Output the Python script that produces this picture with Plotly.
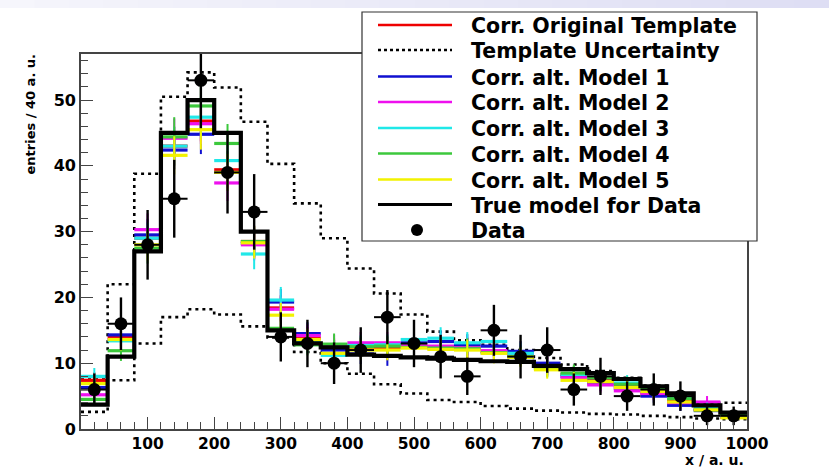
import numpy as np
import plotly.graph_objects as go

# ---------------- data ----------------
bin_edges = list(range(0, 1001, 40))
bin_centers = [e + 20 for e in bin_edges[:-1]]

true_model = [3.7, 11.0, 27.0, 45.0, 50.0, 45.0, 30.0, 15.0, 13.0, 12.4, 11.3, 11.1, 10.9,
              10.7, 10.5, 10.3, 10.2, 9.6, 9.1, 8.5, 7.6, 6.5, 5.4, 3.6, 2.5]
unc_upper = [7.5, 22.0, 38.8, 50.5, 54.2, 51.9, 46.7, 40.3, 34.3, 29.0, 24.4, 20.6, 17.4,
             14.8, 13.5, 12.8, 12.0, 10.8, 9.8, 8.8, 7.8, 6.6, 5.3, 4.0, 4.0]
unc_lower = [2.6, 7.4, 13.0, 17.0, 18.2, 17.4, 15.6, 13.9, 11.7, 10.0, 8.4, 6.8, 5.4,
             4.4, 4.1, 3.5, 3.1, 2.8, 2.5, 2.3, 2.2, 2.0, 1.8, 1.6, 1.5]

orig_template = [7.4, 13.9, 29.0, 43.0, 46.8, 39.4, 28.5, 18.4, 13.8, 12.2, 12.3, 12.4, 12.6,
                 12.5, 12.3, 11.8, 11.2, 9.6, 8.3, 7.4, 6.6, 5.5, 4.3, 3.0, 1.8]
alt_model_1 = [6.3, 14.3, 29.5, 42.4, 44.8, 39.0, 28.2, 19.3, 14.5, 12.0, 11.4, 11.1, 13.1,
               13.3, 12.8, 12.6, 11.8, 10.0, 8.0, 7.0, 6.2, 5.0, 3.6, 2.8, 1.9]
alt_model_2 = [5.2, 13.6, 30.3, 44.2, 46.4, 37.4, 28.0, 18.2, 14.2, 12.7, 13.1, 13.1, 12.6,
               12.6, 12.3, 11.9, 11.3, 9.4, 7.8, 6.7, 5.8, 5.4, 4.0, 4.1, 1.9]
alt_model_3 = [8.0, 13.4, 29.0, 43.0, 47.4, 40.8, 26.6, 19.6, 13.2, 11.2, 12.7, 12.8, 13.6,
               13.8, 13.1, 13.3, 11.5, 9.2, 8.3, 7.8, 7.0, 6.0, 4.8, 3.2, 2.0]
alt_model_4 = [4.5, 11.9, 27.5, 44.4, 49.1, 43.4, 28.5, 15.3, 12.8, 12.9, 12.5, 12.6, 12.4,
               12.3, 12.2, 11.6, 11.0, 9.3, 8.5, 7.8, 6.8, 6.1, 4.6, 2.9, 2.1]
alt_model_5 = [6.9, 13.6, 28.0, 41.6, 45.5, 39.0, 28.3, 17.3, 13.6, 11.5, 12.0, 12.0, 12.3,
               12.1, 12.0, 11.5, 10.9, 9.0, 7.4, 7.2, 6.3, 5.7, 4.1, 2.9, 1.7]

data_counts = [6, 16, 28, 35, 53, 39, 33, 14, 13, 10, 12, 17, 13, 11, 8, 15, 11, 12, 6, 8,
               5, 6, 5, 2, 2]

x_tick_vals = [100, 200, 300, 400, 500, 600, 700, 800, 900, 1000]
y_tick_vals = [0, 10, 20, 30, 40, 50]

legend_labels = ["Corr. Original Template", "Template Uncertainty", "Corr. alt. Model 1",
                 "Corr. alt. Model 2", "Corr. alt. Model 3", "Corr. alt. Model 4",
                 "Corr. alt. Model 5", "True model for Data", "Data"]

# ---------------- style ----------------
W, H = 829, 470
ML, MR, MT, MB = 81, 82, 54, 41
PW, PH = W - ML - MR, H - MT - MB

RED, BLUE, MAG, CYAN, GREEN, YEL = "#ee0000", "#1010d0", "#ee10ee", "#20e8e8", "#3cc83c", "#f2f200"
model_series = [(orig_template, RED), (alt_model_1, BLUE), (alt_model_2, MAG),
                (alt_model_3, CYAN), (alt_model_4, GREEN), (alt_model_5, YEL)]

def px_x(p):
    return (p - ML) / PW

def px_y(p):
    return (H - MB - p) / PH

def step(vals):
    return list(vals) + [vals[-1]]

fig = go.Figure()

# uncertainty band edges (dotted)
for band in (unc_upper, unc_lower):
    fig.add_trace(go.Scatter(x=bin_edges, y=step(band), mode="lines", line_shape="hv",
                             line=dict(color="black", width=2.6, dash="3px,4px"),
                             hoverinfo="skip", showlegend=False))

# corrected models (ROOT "E"-style crosses)
for vals, col in model_series:
    v = np.array(vals)
    fig.add_trace(go.Scatter(x=bin_centers, y=vals, mode="markers",
                             marker=dict(size=1, color=col),
                             error_x=dict(type="constant", value=20, width=0, thickness=3.2, color=col),
                             error_y=dict(type="data", array=0.45 * np.sqrt(v), width=0,
                                          thickness=2, color=col),
                             showlegend=False))

# true model
fig.add_trace(go.Scatter(x=bin_edges, y=step(true_model), mode="lines", line_shape="hv",
                         line=dict(color="black", width=4.2), showlegend=False))

# data
d = np.array(data_counts, dtype=float)
fig.add_trace(go.Scatter(x=bin_centers, y=data_counts, mode="markers",
                         marker=dict(size=13, color="black"),
                         error_x=dict(type="constant", value=20, width=0, thickness=2, color="black"),
                         error_y=dict(type="data", array=np.sqrt(d), width=0, thickness=2.4,
                                      color="black"),
                         showlegend=False))

shapes = []
annotations = []

# top gradient band (slide decoration)
n_seg = 24
for i in range(n_seg):
    t = i / (n_seg - 1)
    r = int(246 - 24 * t)
    g = int(246 - 24 * t)
    b = int(252 - 8 * t)
    shapes.append(dict(type="rect", xref="paper", yref="paper",
                       x0=px_x(i * W / n_seg), x1=px_x((i + 1) * W / n_seg + 1),
                       y0=px_y(8), y1=px_y(0), line=dict(width=0),
                       fillcolor=f"rgb({r},{g},{b})", layer="above"))

# legend box
LX0, LX1, LY0, LY1 = 362, 757, 12, 241
shapes.append(dict(type="rect", xref="paper", yref="paper",
                   x0=px_x(LX0), x1=px_x(LX1), y0=px_y(LY1), y1=px_y(LY0),
                   line=dict(color="#333333", width=1.2), fillcolor="white", layer="above"))

row_y = [25, 50, 76.5, 102, 128, 153.5, 179.5, 204.5, 230]
sample_styles = [dict(color=RED, width=2.6), dict(color="black", width=2.4, dash="3px,3px"),
                 dict(color=BLUE, width=2.6), dict(color=MAG, width=2.6),
                 dict(color=CYAN, width=2.6), dict(color=GREEN, width=2.6),
                 dict(color=YEL, width=2.6), dict(color="black", width=3.2), None]
for yy, lab, sty in zip(row_y, legend_labels, sample_styles):
    if sty is not None:
        shapes.append(dict(type="line", xref="paper", yref="paper",
                           x0=px_x(378), x1=px_x(452), y0=px_y(yy), y1=px_y(yy),
                           line=sty, layer="above"))
    else:
        r = 6
        shapes.append(dict(type="circle", xref="paper", yref="paper",
                           x0=px_x(417 - r), x1=px_x(417 + r),
                           y0=px_y(yy + r), y1=px_y(yy - r),
                           line=dict(width=0), fillcolor="black", layer="above"))
    annotations.append(dict(text=lab, xref="paper", yref="paper", x=px_x(469), y=px_y(yy + 1),
                            xanchor="left", yanchor="middle", showarrow=False,
                            font=dict(family="DejaVu Sans", size=20.5, color="black",
                                      weight="bold")))

# axis titles
annotations.append(dict(text="entries / 40 a. u.", xref="paper", yref="paper",
                        x=px_x(30), y=px_y(52), xanchor="center", yanchor="top",
                        textangle=-90, showarrow=False,
                        font=dict(family="DejaVu Sans", size=13, color="black", weight="bold")))
annotations.append(dict(text="x / a. u.", xref="paper", yref="paper",
                        x=px_x(746), y=px_y(470), xanchor="right", yanchor="bottom",
                        showarrow=False,
                        font=dict(family="DejaVu Sans", size=14, color="black", weight="bold")))

axis_common = dict(showgrid=False, zeroline=False, showline=True, linecolor="#444444",
                   linewidth=1.6, mirror=True, ticks="inside", tickcolor="#444444",
                   tickwidth=1.3, ticklen=12)

fig.update_layout(
    width=W, height=H, autosize=False,
    margin=dict(l=ML, r=MR, t=MT, b=MB, pad=0),
    paper_bgcolor="white", plot_bgcolor="white",
    showlegend=False,
    xaxis=dict(range=[0, 1000], tickmode="array", tickvals=x_tick_vals,
               ticklabelstandoff=0,
               tickfont=dict(family="DejaVu Sans", size=15.5, color="black", weight="bold"),
               minor=dict(dtick=20, tick0=0, ticks="inside", ticklen=7, tickcolor="#444444",
                          tickwidth=1.2),
               **axis_common),
    yaxis=dict(range=[0, 57], tickmode="array", tickvals=y_tick_vals,
               tickfont=dict(family="DejaVu Sans", size=16, color="black", weight="bold"),
               minor=dict(dtick=2, tick0=0, ticks="inside", ticklen=7, tickcolor="#444444",
                          tickwidth=1.2),
               **axis_common),
    shapes=shapes,
    annotations=annotations,
)

fig.write_html("out.html")
